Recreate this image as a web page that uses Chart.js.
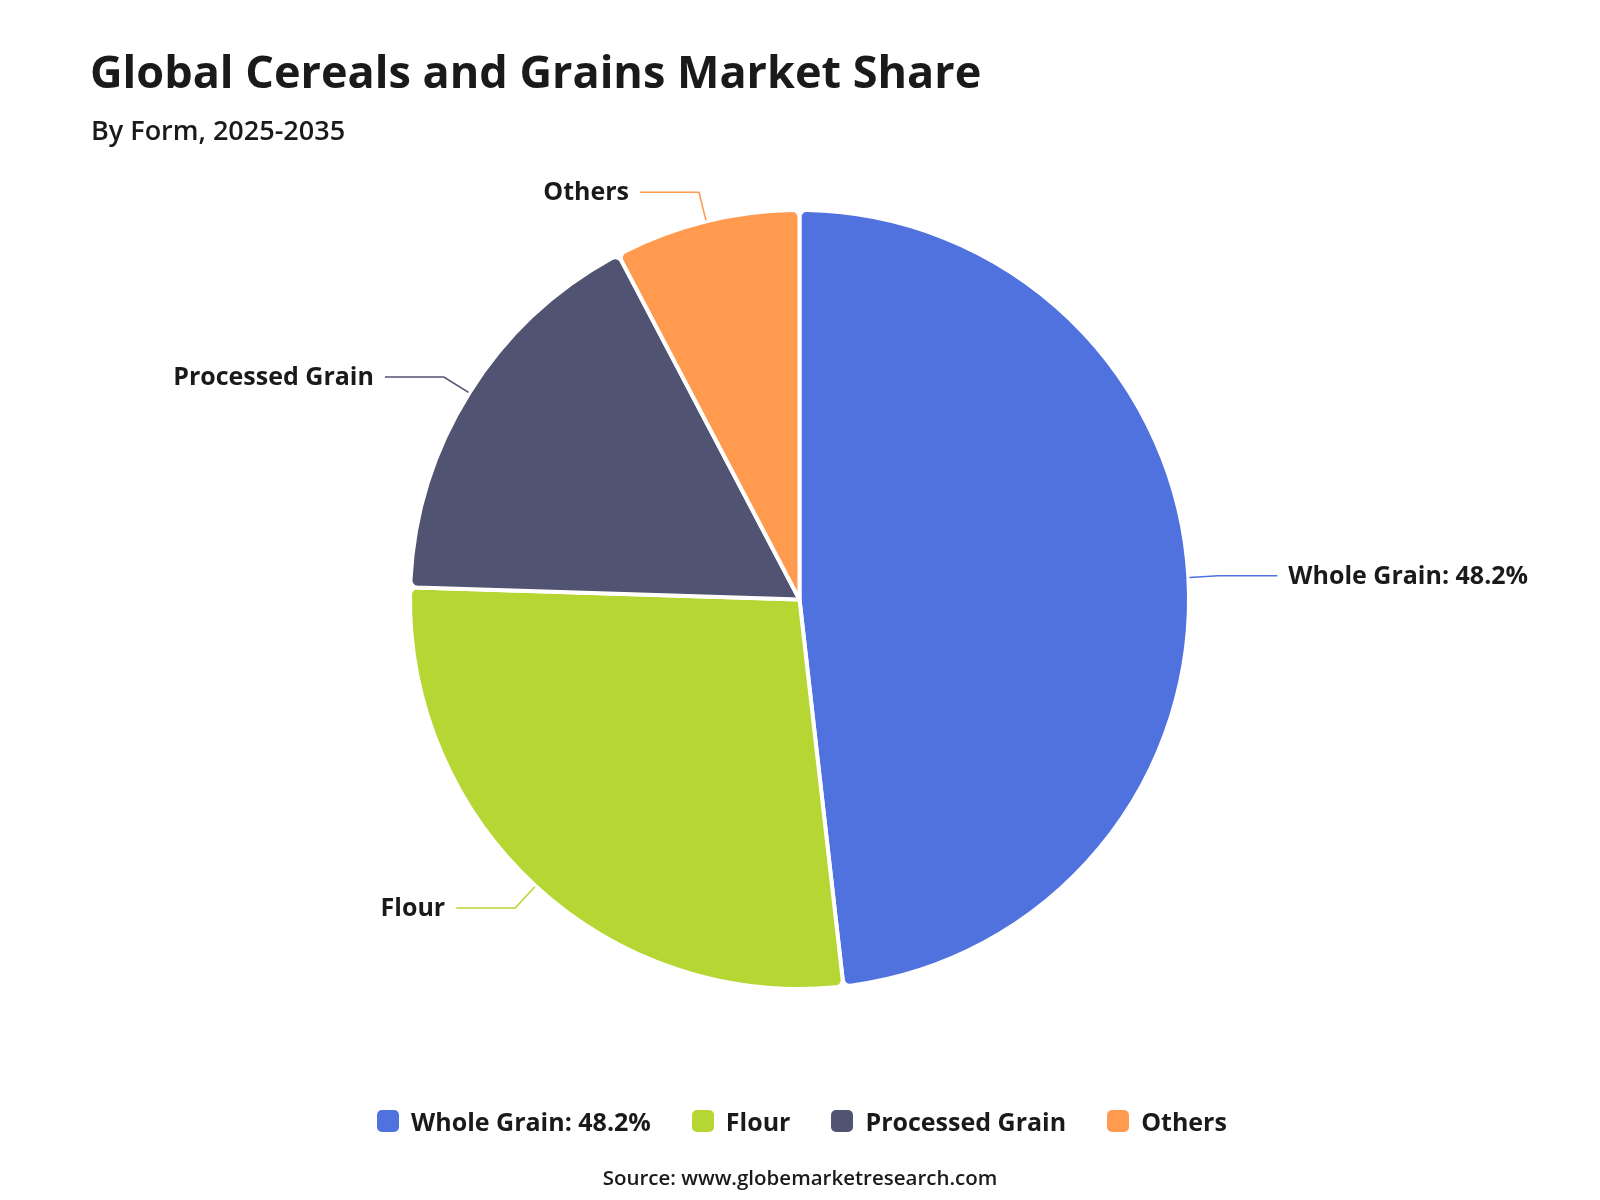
<!DOCTYPE html>
<html>
<head>
<meta charset="utf-8">
<script src="https://cdn.jsdelivr.net/npm/chart.js@4.4.1/dist/chart.umd.min.js"></script>
<style>
  html, body { margin: 0; padding: 0; background: #ffffff; }
  body { width: 1600px; height: 1200px; position: relative; overflow: hidden; font-family: "Open Sans", "Noto Sans", sans-serif; color: #1a1a1a; }
  #wrap { position: absolute; left: 0; top: 0; width: 1600px; height: 1200px; }
  #title { position: absolute; left: 90px; top: 48px; font-size: 45px; font-weight: 700; line-height: 1; white-space: nowrap; }
  #subtitle { position: absolute; left: 91px; top: 116px; font-size: 27px; font-weight: 600; line-height: 1; white-space: nowrap; }
  #legend { position: absolute; left: 0; width: 1604px; top: 1107px; display: flex; justify-content: center; gap: 41px; font-size: 25px; font-weight: 700; line-height: 28px; }
  .item { display: flex; align-items: center; white-space: nowrap; }
  .box { width: 22px; height: 22px; border-radius: 5px; margin-right: 12px; }
  #source { position: absolute; left: 0; width: 1600px; top: 1167px; text-align: center; font-size: 20.5px; font-weight: 600; line-height: 1; }
</style>
</head>
<body>
<div id="wrap"><canvas id="c"></canvas></div>
<div id="title">Global Cereals and Grains Market Share</div>
<div id="subtitle">By Form, 2025-2035</div>
<div id="legend"></div>
<div id="source">Source: www.globemarketresearch.com</div>
<script>
// ---- data ----
const categories = ['Whole Grain', 'Flour', 'Processed Grain', 'Others'];
const shares = [48.2, 27.3, 16.8, 7.7];
const displayLabels = ['Whole Grain: 48.2%', 'Flour', 'Processed Grain', 'Others'];
const sliceColors = ['#5072DE', '#B6D733', '#515372', '#FF9A4F'];

// ---- legend (HTML) ----
const legendEl = document.getElementById('legend');
displayLabels.forEach((lab, i) => {
  const it = document.createElement('div');
  it.className = 'item';
  const b = document.createElement('span');
  b.className = 'box';
  b.style.background = sliceColors[i];
  const t = document.createElement('span');
  t.textContent = lab;
  it.appendChild(b); it.appendChild(t);
  legendEl.appendChild(it);
});

// ---- outside labels with leader lines ----
const leaderLabels = {
  id: 'leaderLabels',
  afterDatasetsDraw(chart) {
    const ctx = chart.ctx;
    const meta = chart.getDatasetMeta(0);
    ctx.save();
    ctx.font = '700 25px "Open Sans", "Noto Sans", sans-serif';
    ctx.textBaseline = 'middle';
    meta.data.forEach((arc, i) => {
      const p = arc.getProps(['x', 'y', 'startAngle', 'endAngle', 'outerRadius'], true);
      const mid = (p.startAngle + p.endAngle) / 2;
      const r = p.outerRadius;
      const len1 = 30, len2 = 59, gap = 11;
      const x0 = p.x + Math.cos(mid) * (r + 1);
      const y0 = p.y + Math.sin(mid) * (r + 1);
      const x1 = p.x + Math.cos(mid) * (r + len1);
      const y1 = p.y + Math.sin(mid) * (r + len1);
      const right = Math.cos(mid) >= 0;
      const x2 = x1 + (right ? len2 : -len2);
      ctx.strokeStyle = sliceColors[i];
      ctx.lineWidth = 1.6;
      ctx.beginPath();
      ctx.moveTo(x0, y0);
      ctx.lineTo(x1, y1);
      ctx.lineTo(x2, y1);
      ctx.stroke();
      ctx.fillStyle = '#1a1a1a';
      ctx.textAlign = right ? 'left' : 'right';
      ctx.fillText(displayLabels[i], x2 + (right ? gap : -gap), y1 + 1);
    });
    ctx.restore();
  }
};

new Chart(document.getElementById('c'), {
  type: 'pie',
  data: {
    labels: categories,
    datasets: [{
      data: shares,
      backgroundColor: sliceColors,
      borderColor: '#ffffff',
      borderWidth: 4,
      borderRadius: 7,
      radius: 389.5
    }]
  },
  options: {
    responsive: true,
    maintainAspectRatio: false,
    animation: false,
    events: [],
    layout: { padding: { left: 410, right: 411, top: 210, bottom: 211 } },
    plugins: {
      legend: { display: false },
      title: { display: false },
      tooltip: { enabled: false }
    }
  },
  plugins: [leaderLabels]
});
</script>
</body>
</html>
